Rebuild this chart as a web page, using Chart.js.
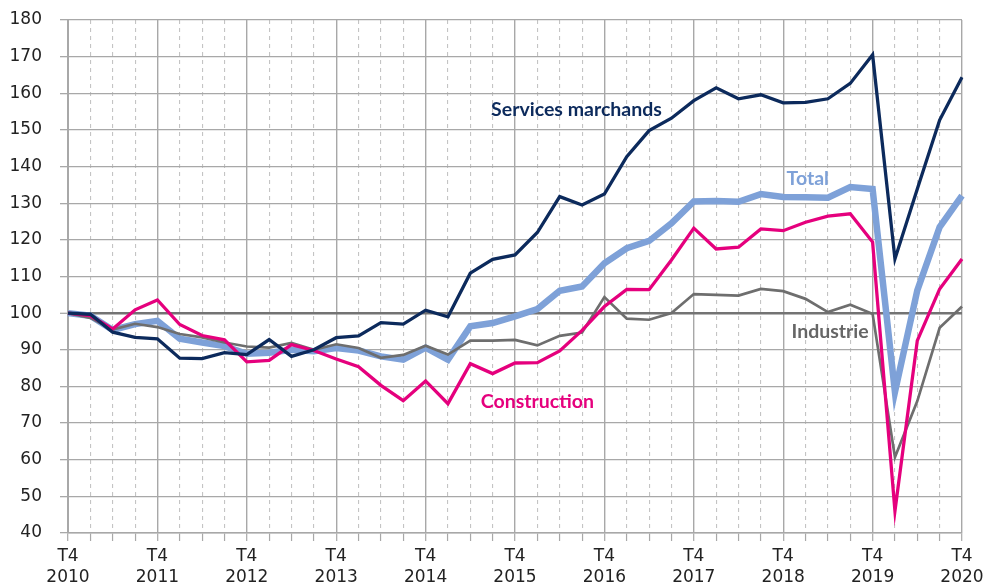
<!DOCTYPE html>
<html>
<head>
<meta charset="utf-8">
<script src="https://cdn.jsdelivr.net/npm/chart.js@4.4.1/dist/chart.umd.min.js"></script>
<style>
  html, body { margin: 0; padding: 0; background: #ffffff; }
  canvas { display: block; }
</style>
</head>
<body>
<canvas id="c" width="986" height="587"></canvas>
<script>
const quarters = [
  'T4 2010','T1 2011','T2 2011','T3 2011','T4 2011','T1 2012','T2 2012','T3 2012','T4 2012',
  'T1 2013','T2 2013','T3 2013','T4 2013','T1 2014','T2 2014','T3 2014','T4 2014',
  'T1 2015','T2 2015','T3 2015','T4 2015','T1 2016','T2 2016','T3 2016','T4 2016',
  'T1 2017','T2 2017','T3 2017','T4 2017','T1 2018','T2 2018','T3 2018','T4 2018',
  'T1 2019','T2 2019','T3 2019','T4 2019','T1 2020','T2 2020','T3 2020','T4 2020'
];
const yTicks = [40, 50, 60, 70, 80, 90, 100, 110, 120, 130, 140, 150, 160, 170, 180];

const servicesMarchands = [100, 99.7, 94.8, 93.4, 93.0, 87.7, 87.6, 89.2, 88.7, 92.8, 88.2, 90.0, 93.3, 93.8, 97.4, 97.0, 100.8, 99.0,
  110.9, 114.7, 115.9, 122.0, 131.8, 129.5, 132.5, 142.7, 149.8, 153.2, 158.0, 161.5, 158.5, 159.6, 157.4, 157.5, 158.5, 162.7, 170.5,
  114.8, 133.9, 152.7, 164.4];
const total = [100, 99.3, 95.4, 97.0, 97.9, 93.0, 92.0, 91.0, 88.9, 89.2, 90.0, 89.6, 90.5, 89.8, 88.2, 87.3, 90.6, 87.3,
  96.4, 97.3, 99.1, 101.1, 106.1, 107.3, 113.6, 117.7, 119.7, 124.5, 130.5, 130.6, 130.4, 132.5, 131.7, 131.6, 131.5, 134.4, 133.9,
  78.5, 106.2, 123.5, 132.1];
const construction = [100, 99.3, 95.7, 100.9, 103.6, 96.9, 93.9, 92.7, 86.7, 87.1, 91.4, 89.8, 87.5, 85.4, 80.3, 76.1, 81.5, 75.3,
  86.2, 83.5, 86.4, 86.5, 89.7, 95.3, 101.8, 106.5, 106.4, 114.5, 123.2, 117.5, 118.0, 123.0, 122.5, 124.8, 126.5, 127.1, 119.4,
  46.0, 92.5, 106.6, 114.8];
const industrie = [100, 98.7, 95.5, 97.1, 96.2, 94.3, 93.4, 92.0, 90.9, 90.6, 91.9, 90.0, 91.5, 90.5, 87.8, 88.6, 91.1, 88.7,
  92.5, 92.5, 92.7, 91.2, 93.8, 94.7, 104.4, 98.5, 98.2, 100.0, 105.2, 105.0, 104.8, 106.6, 106.0, 103.9, 100.3, 102.3, 99.8,
  60.7, 76.0, 96.0, 101.8];

const seriesLabels = [
  { text: 'Services marchands', x: 22.75, y: 155.4, color: '#0c2a5c' },
  { text: 'Total', x: 33.1, y: 136.6, color: '#7ea1d8' },
  { text: 'Industrie', x: 34.1, y: 94.9, color: '#666666' },
  { text: 'Construction', x: 21.0, y: 75.8, color: '#e5007d' }
];

const labelPlugin = {
  id: 'seriesLabels',
  afterDatasetsDraw(chart) {
    const { ctx, scales: { x, y } } = chart;
    ctx.save();
    ctx.font = 'bold 19.5px Lato';
    ctx.textAlign = 'center';
    ctx.textBaseline = 'middle';
    seriesLabels.forEach(l => {
      ctx.fillStyle = l.color;
      ctx.fillText(l.text, x.getPixelForValue(l.x), y.getPixelForValue(l.y));
    });
    ctx.restore();
  }
};

new Chart(document.getElementById('c'), {
  type: 'line',
  data: {
    labels: quarters,
    datasets: [
      { label: 'Services marchands', data: servicesMarchands, borderColor: '#0c2a5c', borderWidth: 3.3, order: 1 },
      { label: 'Construction', data: construction, borderColor: '#e5007d', borderWidth: 3.3, order: 2 },
      { label: 'Industrie', data: industrie, borderColor: '#6e6e6e', borderWidth: 2.7, order: 3 },
      { label: 'Total', data: total, borderColor: '#7ea1d8', borderWidth: 6.5, order: 4 }
    ]
  },
  options: {
    responsive: false,
    devicePixelRatio: 1,
    animation: false,
    layout: { padding: { top: 20, right: 24, bottom: 0, left: 0 } },
    elements: {
      point: { radius: 0, hoverRadius: 0 },
      line: { tension: 0, fill: false, borderJoinStyle: 'miter', borderCapStyle: 'butt' }
    },
    plugins: { legend: { display: false }, tooltip: { enabled: false } },
    scales: {
      x: {
        type: 'category',
        offset: false,
        afterFit(s) { s.height = 54; s.paddingLeft = 0; s.paddingRight = 0; },
        grid: {
          offset: false,
          color: c => (c.index % 4 === 0 ? '#a8a8a8' : '#c4c4c4'),
          lineWidth: c => (c.index % 4 === 0 ? 1.4 : 1.1),
          drawTicks: true,
          tickLength: 8,
          tickColor: '#a8a8a8',
          tickWidth: 1.2
        },
        border: {
          display: true,
          color: '#a8a8a8',
          width: 1.5,
          dash: c => (c.type === 'tick' && c.index % 4 !== 0 ? [4, 4] : [])
        },
        ticks: {
          autoSkip: false,
          maxRotation: 0,
          minRotation: 0,
          padding: 6,
          color: '#222222',
          font: { family: 'DejaVu Sans', size: 17, lineHeight: 1.18 },
          callback(v, i) {
            if (i % 4 !== 0) return '';
            const parts = quarters[i].split(' ');
            return [parts[0], parts[1]];
          }
        }
      },
      y: {
        min: 40,
        max: 180,
        afterFit(s) { s.width = 68; s.paddingTop = 0; s.paddingBottom = 0; },
        afterBuildTicks(s) { s.ticks = yTicks.map(v => ({ value: v })); },
        grid: {
          color: c => (c.tick && c.tick.value === 100 ? '#737373' : '#a8a8a8'),
          lineWidth: c => (c.tick && c.tick.value === 100 ? 2.6 : 1.3),
          drawTicks: true,
          tickLength: 8,
          tickColor: '#a8a8a8',
          tickWidth: 1.3
        },
        border: { display: true, color: '#a8a8a8', width: 2 },
        ticks: {
          padding: 18,
          color: '#222222',
          font: { family: 'DejaVu Sans', size: 17 }
        }
      }
    }
  },
  plugins: [labelPlugin]
});
</script>
</body>
</html>
